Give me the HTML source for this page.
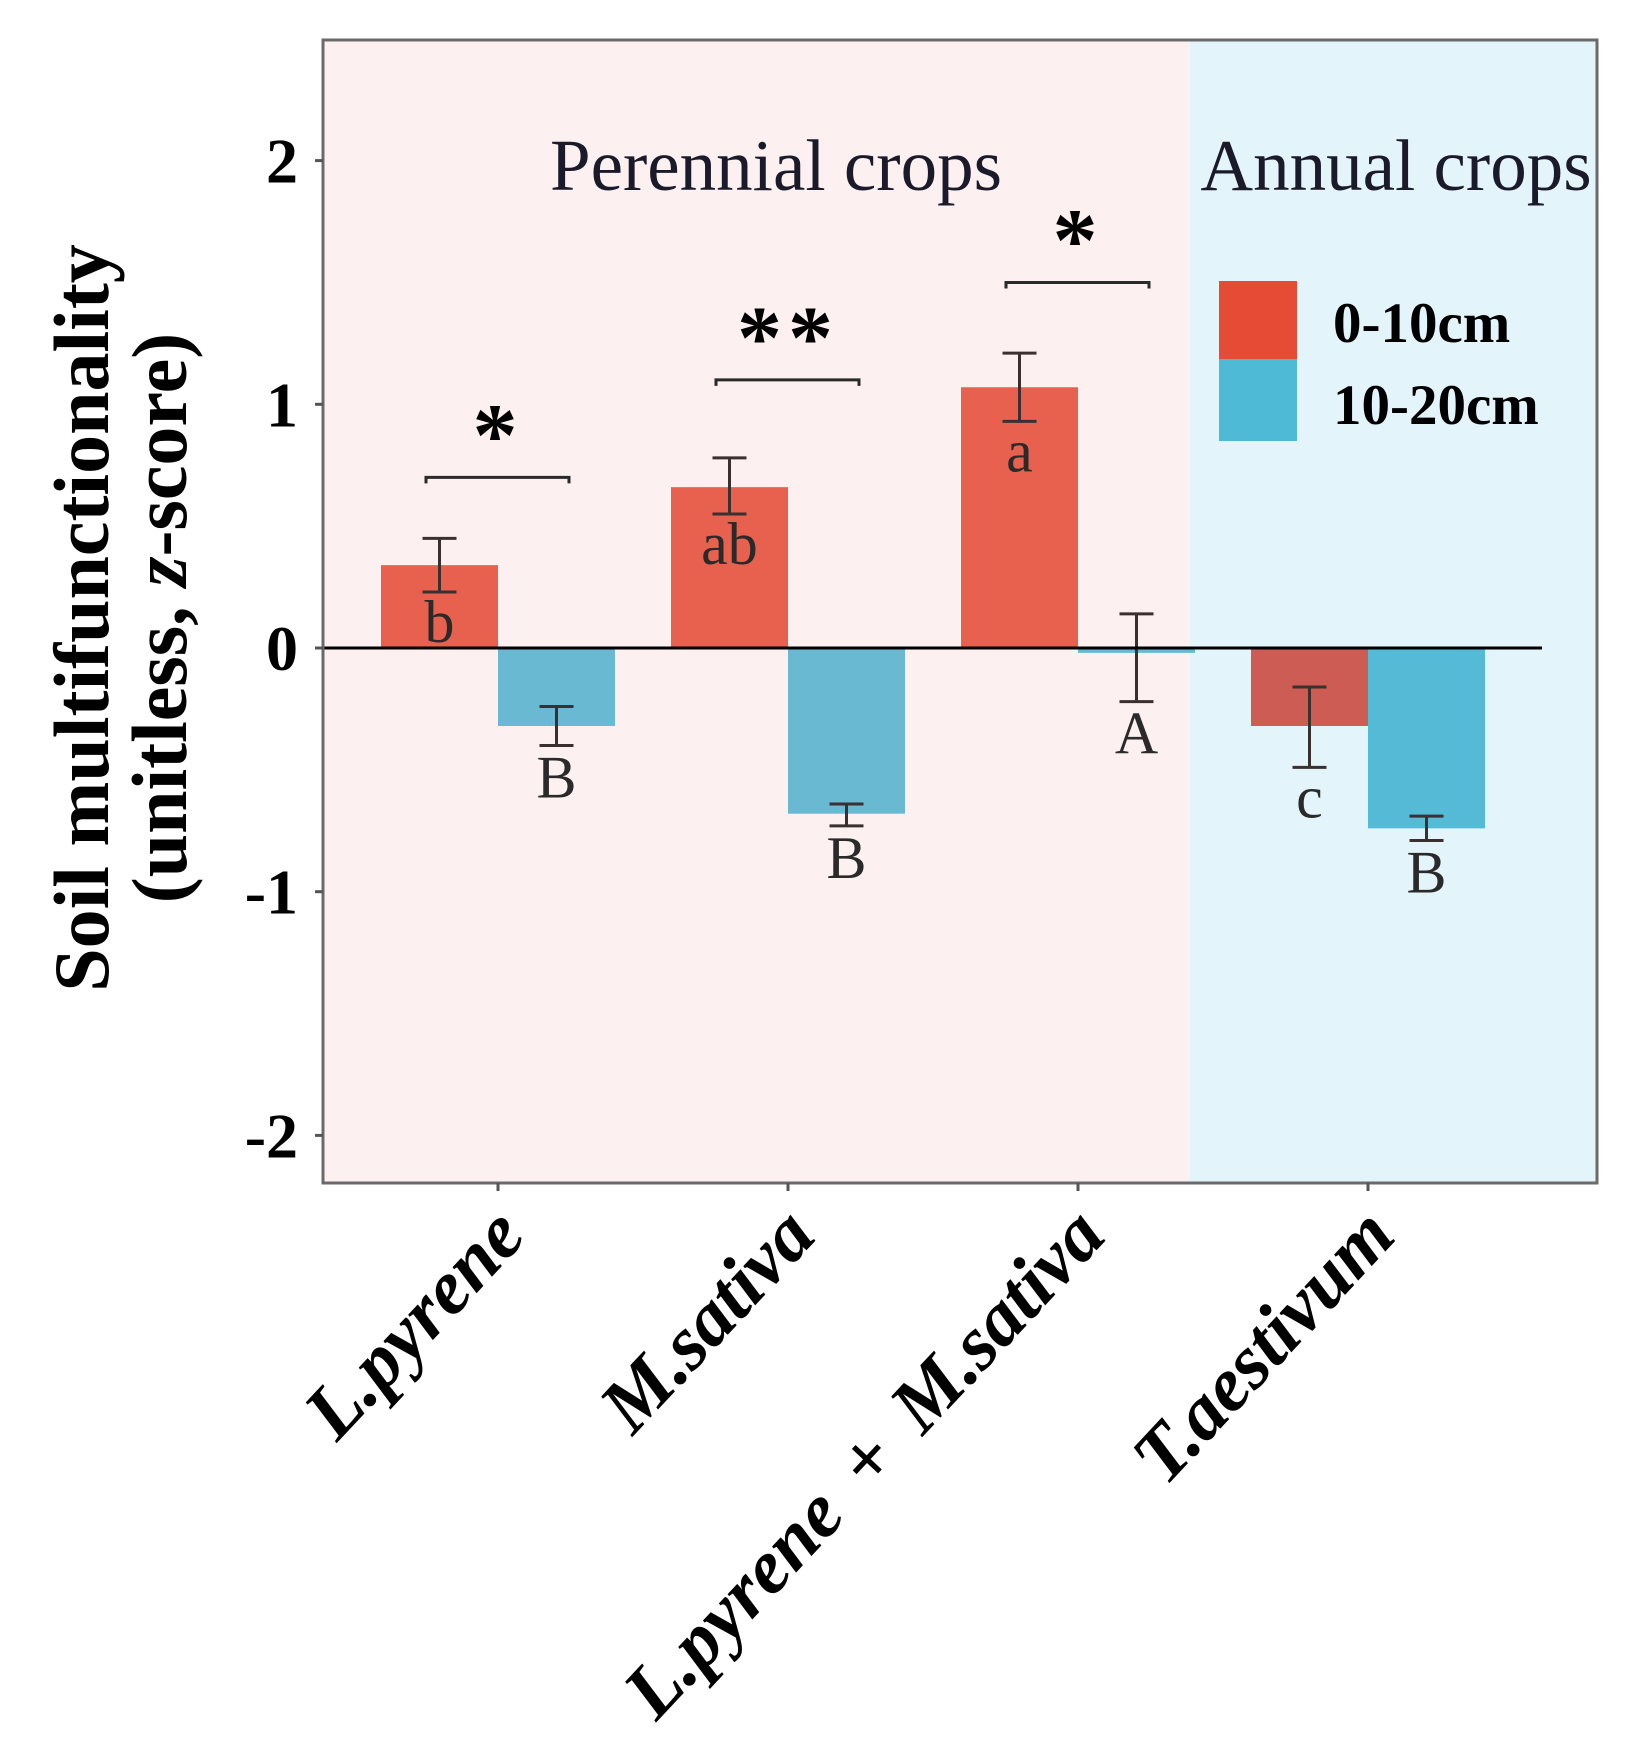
<!DOCTYPE html>
<html><head><meta charset="utf-8"><style>
body{margin:0;background:#fff}
svg{display:block}
text{font-family:"Liberation Serif",serif}
</style></head><body>
<svg id="chart" width="1637" height="1745" viewBox="0 0 1637 1745" xmlns="http://www.w3.org/2000/svg">
<rect x="323" y="40" width="867" height="1143" fill="#fdf0f0"/>
<rect x="1190" y="40" width="407" height="1143" fill="#e4f4fb"/>
<g id="marks"></g>
<rect x="323" y="40" width="1274" height="1143" fill="none" stroke="#6a6a6a" stroke-width="3"/>
<text x="776" y="190" font-size="73" text-anchor="middle" fill="#1a1a2a">Perennial crops</text>
<text x="1396" y="190" font-size="73" text-anchor="middle" fill="#1a1a2a">Annual crops</text>
<g>
<rect x="1219" y="281" width="78" height="78" fill="#e54b35"/>
<rect x="1219" y="359" width="78" height="82" fill="#4fbad6"/>
<text x="1333" y="342" font-size="57" font-weight="bold">0-10cm</text>
<text x="1333" y="424" font-size="57" font-weight="bold">10-20cm</text>
</g>
<g font-size="78" font-weight="bold" text-anchor="middle">
<text transform="translate(108,618) rotate(-90)">Soil multifunctionality</text>
<text transform="translate(186,618) rotate(-90)">(unitless, <tspan font-style="italic">z</tspan>-score)</text>
</g>
</svg>
<script>
const categories=["L.pyrene","M.sativa","L.pyrene + M.sativa","T.aestivum"];
const topValues=[0.34,0.66,1.07,-0.32];
const topErrLow=[0.23,0.55,0.93,-0.49];
const topErrHigh=[0.45,0.78,1.21,-0.16];
const subValues=[-0.32,-0.68,-0.02,-0.74];
const subErrLow=[-0.40,-0.73,-0.22,-0.79];
const subErrHigh=[-0.24,-0.64,0.14,-0.69];
const topLetters=["b","ab","a","c"];
const subLetters=["B","B","A","B"];
const sigMarks=["*","**","*",""];
const sigHeights=[0.70,1.10,1.50,null];
const yTicks=[-2,-1,0,1,2];

const NS="http://www.w3.org/2000/svg";
const svg=document.getElementById('chart');
const g=document.getElementById('marks');
const y=v=>648-v*243.7;
const x=i=>498+i*290;
const BW=117;
function mk(t,a,p){const e=document.createElementNS(NS,t);for(const k in a)e.setAttribute(k,a[k]);(p||g).appendChild(e);return e;}

categories.forEach((c,i)=>{
  const cx=x(i);
  const redCol=i===3?'#cd5d54':'#e8614f';
  const blueCol=i===3?'#55bad6':'#68b9d1';
  [[topValues,topErrLow,topErrHigh,-1,redCol,topLetters],[subValues,subErrLow,subErrHigh,1,blueCol,subLetters]].forEach(([vals,lo,hi,side,col,lets],s)=>{
    const bx=cx+side*58.5;const v=vals[i];
    const r=mk('rect',{x:bx-BW/2,y:Math.min(y(v),y(0)),width:BW,height:Math.abs(y(v)-y(0)),fill:col});
    
    
    const eb=mk('path',{d:`M${bx},${y(lo[i])}V${y(hi[i])}M${bx-17},${y(lo[i])}H${bx+17}M${bx-17},${y(hi[i])}H${bx+17}`,stroke:'#3a3030','stroke-width':3,fill:'none'});
    
    
    const ly=y(lo[i])+(s===0?50:52);
    const lt=mk('text',{x:bx,y:ly,'font-size':60,'text-anchor':'middle',fill:'#2a2a2a'});
    lt.textContent=lets[i];
    
    
  });
  if(sigHeights[i]!==null){
    const sy=y(sigHeights[i]);
    const br=mk('path',{d:`M${cx-72},${sy+6}V${sy}H${cx+71}V${sy+6}`,stroke:'#2a2a2a','stroke-width':3,fill:'none'});
    
    
    const st=mk('text',{x:cx,y:sy-12,'font-size':90,'font-weight':'bold','text-anchor':'middle','letter-spacing':'6'});
    st.textContent=sigMarks[i];
    
    
  }
  const tk=mk('line',{x1:cx,y1:1183,x2:cx,y2:1191,stroke:'#555','stroke-width':3},svg);
  
  
  const xl=mk('text',{transform:`translate(${cx+30},1238) rotate(-47)`,'font-size':77,'font-weight':'bold','font-style':'italic','text-anchor':'end','word-spacing':'14'},svg);
  xl.textContent=c;
  
  
});
const zl=mk('line',{x1:323,y1:y(0),x2:1542,y2:y(0),stroke:'#000','stroke-width':3});


yTicks.forEach(t=>{
  const tl=mk('line',{x1:315,y1:y(t),x2:323,y2:y(t),stroke:'#555','stroke-width':3},svg);
  
  
  const tt=mk('text',{x:298,y:y(t)+22,'font-size':64,'font-weight':'bold','text-anchor':'end'},svg);
  tt.textContent=t;
  
  
});
</script>
</body></html>
